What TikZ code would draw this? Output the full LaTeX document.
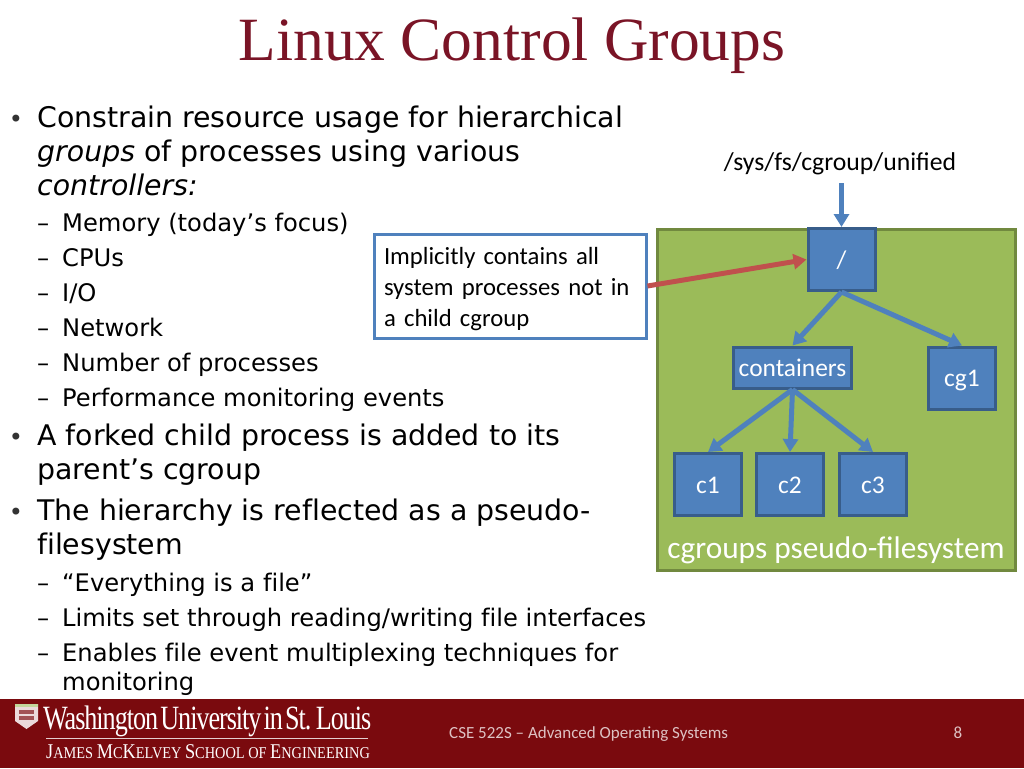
\documentclass[tikz,border=0pt]{standalone}
\usepackage{fontspec}
\setmainfont[Ligatures=NoCommon]{DejaVu Sans}
\newfontfamily\titlefont{Liberation Serif}
\newfontfamily\boxfont{Carlito}
\newfontfamily\crestfont[LetterSpace=-4,WordSpace=0.4]{Liberation Serif}
\newfontfamily\schoolfont{Liberation Serif}
\newcommand{\capl}[1]{{\fontsize{21}{22}\selectfont #1}}
\usetikzlibrary{arrows.meta}
\definecolor{wured}{HTML}{7A0A0E}
\definecolor{titlered}{HTML}{7A1426}
\definecolor{boxblue}{HTML}{4F81BD}
\definecolor{boxline}{HTML}{385D8A}
\definecolor{fsgreen}{HTML}{9BBB59}
\definecolor{fsline}{HTML}{71893F}
\definecolor{notered}{HTML}{C0504D}
\tikzstyle{main}=[inner sep=0pt,anchor=base west,font=\fontsize{28.4}{32}\selectfont]
\tikzstyle{sub}=[inner sep=0pt,anchor=base west,font=\fontsize{24.2}{28}\selectfont]
\tikzstyle{dot}=[inner sep=0pt,anchor=base,text=black!80,font=\fontsize{24}{28}\selectfont]
\tikzstyle{cg}=[draw=boxline,fill=boxblue,line width=3pt,inner sep=0pt,text=white,text height=17pt,text depth=0pt,font=\boxfont\fontsize{25.4}{28}\selectfont]
\tikzstyle{link}=[-{Triangle[length=13pt,width=15pt]},line width=5pt,draw=boxblue]
\begin{document}
\begin{tikzpicture}[x=1pt,y=-1pt]
		\useasboundingbox (0,0) rectangle (1024,768);
		\node(title) [text=titlered,inner sep=0pt,anchor=base,font=\titlefont\fontsize{61.5}{66}\selectfont] at (512,60) {Linux Control Groups};
		
		\node(b1) [dot] at (16,127) {•};
		\node(t1) [main] at (37,127) {Constrain resource usage for hierarchical};
		\node(t2) [main] at (37,161) {\itshape groups\upshape{} of processes using various};
		\node(t3) [main] at (37,195) {\itshape controllers:};
		\node(d1) [sub] at (37,231) {–};
		\node(t4) [sub] at (62,231) {Memory (today’s focus)};
		\node(d2) [sub] at (37,266) {–};
		\node(t5) [sub] at (62,266) {CPUs};
		\node(d3) [sub] at (37,301) {–};
		\node(t6) [sub] at (62,301) {I/O};
		\node(d4) [sub] at (37,336) {–};
		\node(t7) [sub] at (62,336) {Network};
		\node(d5) [sub] at (37,371) {–};
		\node(t8) [sub] at (62,371) {Number of processes};
		\node(d6) [sub] at (37,406) {–};
		\node(t9) [sub] at (62,406) {Performance monitoring events};
		\node(b2) [dot] at (16,445) {•};
		\node(t10) [main] at (37,445) {A forked child process is added to its};
		\node(t11) [main] at (37,479) {parent’s cgroup};
		\node(b3) [dot] at (16,520) {•};
		\node(t12) [main] at (37,520) {The hierarchy is reflected as a pseudo-};
		\node(t13) [main] at (37,554) {filesystem};
		\node(d7) [sub] at (37,591) {–};
		\node(t14) [sub] at (62,591) {“Everything is a file”};
		\node(d8) [sub] at (37,626) {–};
		\node(t15) [sub] at (62,626) {Limits set through reading/writing file interfaces};
		\node(d9) [sub] at (37,661) {–};
		\node(t16) [sub] at (62,661) {Enables file event multiplexing techniques for};
		\node(t17) [sub] at (62,690) {monitoring};
		
		\node(note) [draw=boxblue,fill=white,line width=3pt,inner xsep=10pt,inner ysep=0pt,text width=252pt,minimum height=104pt,align=left,font=\boxfont\fontsize{24.7}{31}\selectfont] at (510,286) {\rule{0pt}{24pt}Implicitly contains all\\system processes not in\\a child cgroup};
		
		\node(fs) [draw=fsline,fill=fsgreen,line width=3pt,minimum width=358pt,minimum height=341pt,inner sep=0pt] at (836.5,400) {};
		\node(fslabel) [inner sep=0pt,anchor=base,text=white,font=\boxfont\fontsize{31.3}{34}\selectfont] at (836,558) {cgroups pseudo-filesystem};
		\node(path) [inner sep=0pt,font=\boxfont\fontsize{25.7}{28}\selectfont] at (840,164) {/sys/fs/cgroup/unified};
		\coordinate(top) at (841.5,183);
		
		\node(root) [cg,minimum width=67pt,minimum height=62pt] at (841.5,259.5) {/};
		\node(containers) [cg,minimum width=118pt,minimum height=41pt] at (792.5,367.5) {containers};
		\node(cg1) [cg,minimum width=67pt,minimum height=62pt] at (962,378) {cg1};
		\node(c1) [cg,minimum width=67pt,minimum height=62pt] at (708,484.5) {c1};
		\node(c2) [cg,minimum width=67pt,minimum height=62pt] at (790,484.5) {c2};
		\node(c3) [cg,minimum width=67pt,minimum height=62pt] at (873,484.5) {c3};
		
		\draw[link] (top) -- (root.north);
		\draw[link] (root.south) -- (containers.north);
		\draw[link] (root.south) -- (cg1.north);
		\draw[link] (containers.south) -- (c1.north);
		\draw[link] (containers.south) -- (c2.north);
		\draw[link] (containers.south) -- (c3.north);
		\draw[link,draw=notered] (note.east) -- (root.west);
		
		\fill[wured] (0,699) rectangle (1024,768);
		\fill[white!85!wured] (15,704) -- (38,704) -- (38,721) -- (26.5,729) -- (15,721) -- cycle;
		\fill[wured!70!white] (19,710) rectangle (34,720);
		\fill[white!85!wured] (19,714) rectangle (34,716);
		\fill[fsgreen!60!white] (15,704) rectangle (38,707);
		\node(crest) [inner sep=0pt,anchor=base west,text=white,xscale=0.77,transform shape,font=\crestfont\fontsize{34}{36}\selectfont] at (43,729) {Washington University in St.\,Louis};
		\draw[white!80!wured,line width=1pt] (46,738) -- (368,738);
		\node(school) [inner sep=0pt,anchor=base west,text=white,xscale=0.87,transform shape,font=\schoolfont\fontsize{16.5}{22}\selectfont] at (46,758) {\capl{J}AMES \capl{M}C\capl{K}ELVEY \capl{S}CHOOL OF \capl{E}NGINEERING};
		\node(course) [inner sep=0pt,anchor=base west,text=white!75!wured,font=\boxfont\fontsize{17}{20}\selectfont] at (449,738) {CSE 522S – Advanced Operating Systems};
		\node(page) [inner sep=0pt,anchor=base,text=white!75!wured,font=\boxfont\fontsize{17}{20}\selectfont] at (958,738) {8};
		\end{tikzpicture}
\end{document}
